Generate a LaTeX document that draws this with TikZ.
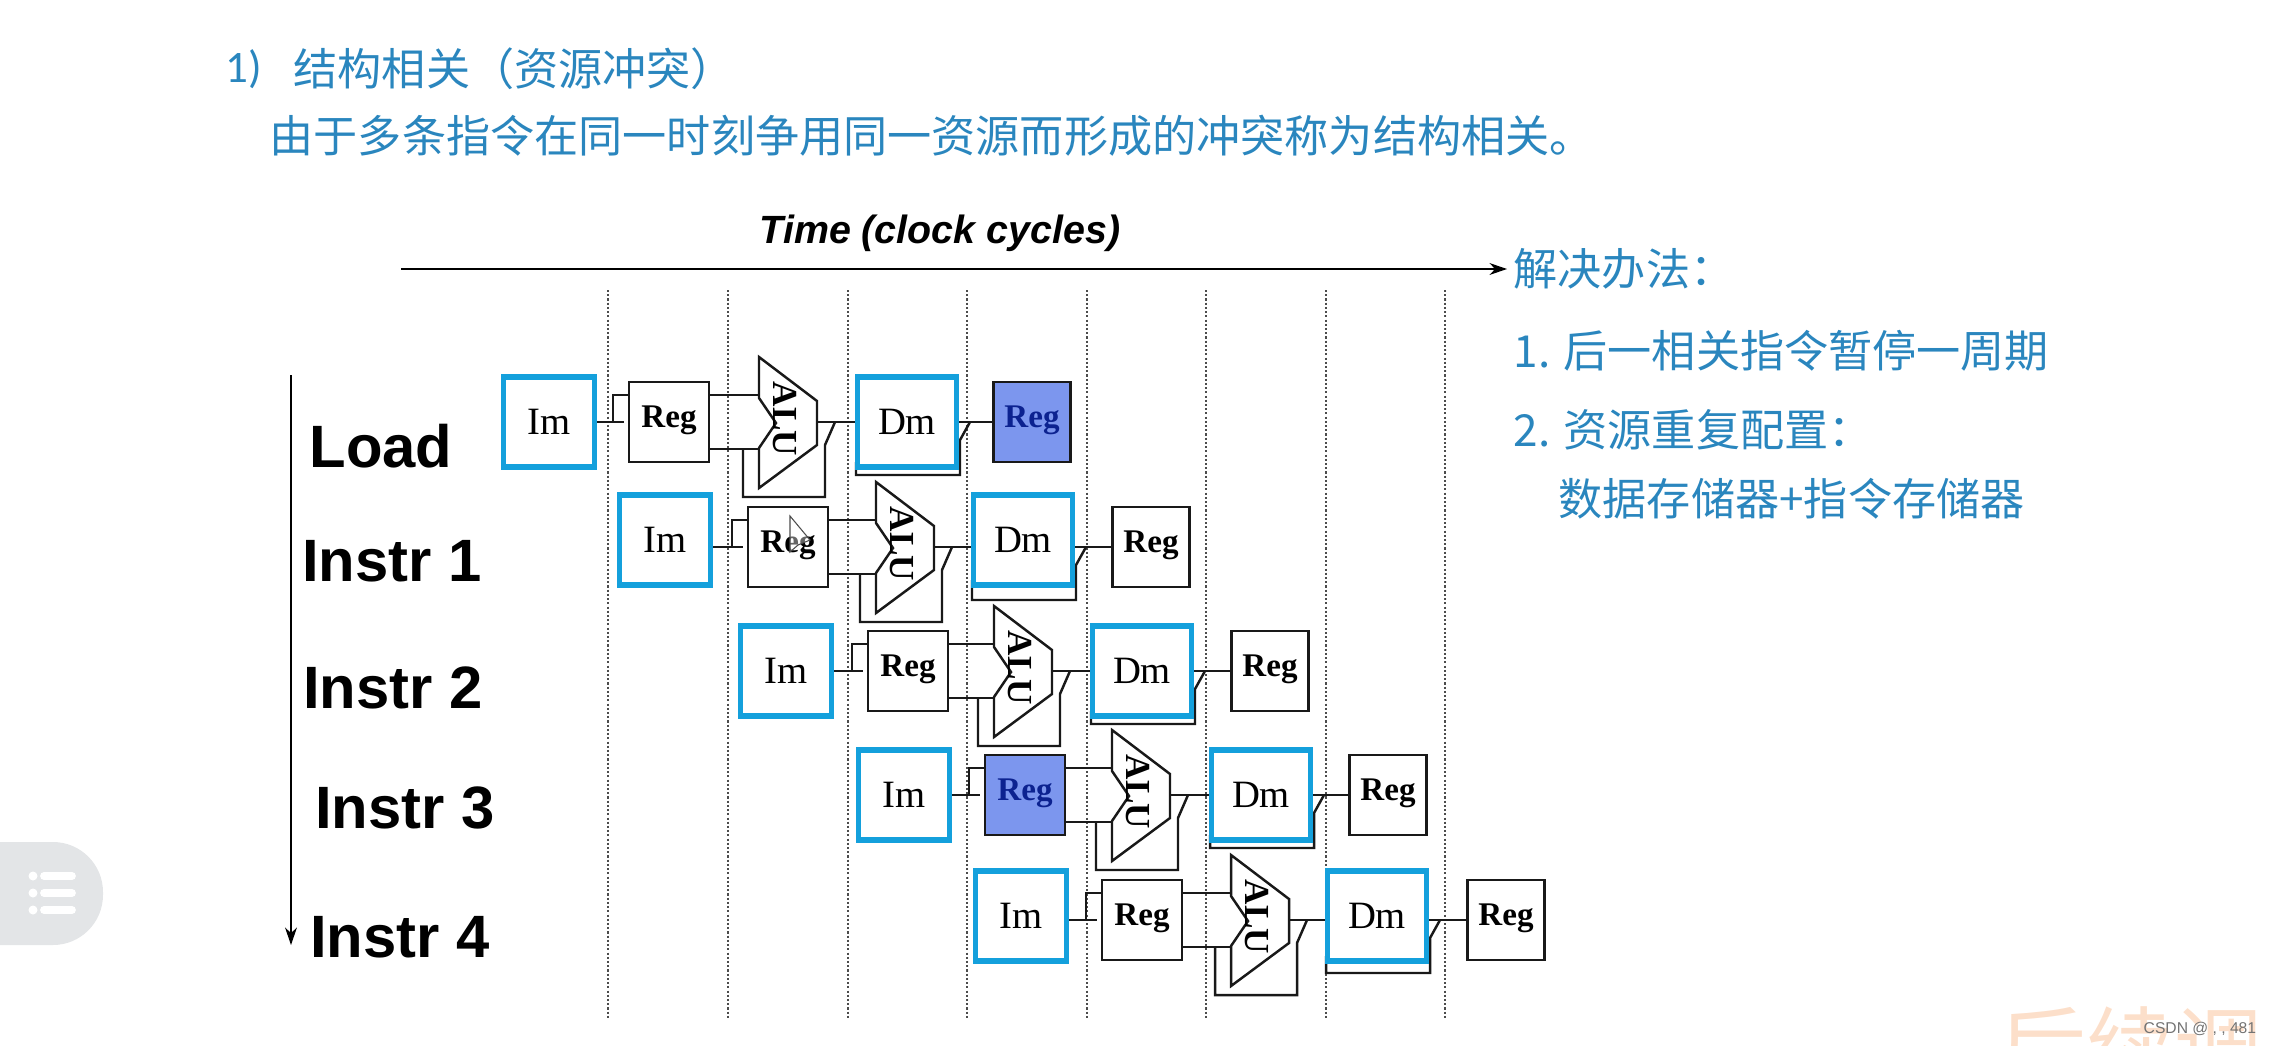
\documentclass[tikz,border=0pt]{standalone}
\usepackage{fontspec}
\setmainfont{Liberation Serif}
\newfontfamily\cjk{Noto Sans CJK SC}
\newfontfamily\carlito{Carlito}
\newfontfamily\arial{Liberation Sans}
\usetikzlibrary{arrows.meta, calc}
\definecolor{slideblue}{HTML}{2A86BE}
\definecolor{boxblue}  {HTML}{14A0DC}
\definecolor{hazfill}  {HTML}{7C96EE}
\definecolor{hazink}   {HTML}{0C2290}
\definecolor{wmorange} {HTML}{FCDFCA}
\definecolor{btngray}  {HTML}{E3E5E7}
\tikzset{
  SLD/.style={text=slideblue, font=\cjk\fontsize{12.55}{14}\selectfont, anchor=west, inner sep=0pt},
  ROW/.style={font=\arial\bfseries\fontsize{17}{19}\selectfont, inner sep=0pt},
  MEM/.style={draw=boxblue, fill=white, line width=1.5pt, minimum height=0.9cm,
    inner sep=0pt, font=\fontsize{11}{12}\selectfont},
  REG/.style={draw=black!90, fill=white, line width=0.7pt, minimum height=0.8cm,
    inner sep=0pt, text height=4pt, text depth=1pt, font=\bfseries\fontsize{9.4}{11}\selectfont},
  HAZ/.style={fill=hazfill, text=hazink},
  WIRE/.style={draw=black!90, line width=0.7pt},
  TICK/.style={black!70, line width=0.5pt, dash pattern=on 0.6pt off 0.6pt},
  ARR/.style={-{Stealth[length=5pt,width=3.4pt]}, line width=0.4pt},
}
\begin{document}
\begin{tikzpicture}[x=0.01cm, y=-0.01cm]
  \clip (0,0) rectangle (2270,1045);
  % slide text
  \node[SLD, font=\carlito\fontsize{12.8}{15}\selectfont] (num) at (225,69) {1)};
  \node[SLD] (head) at (293,69) {结构相关（资源冲突）};
  \node[SLD] (body) at (269,136) {由于多条指令在同一时刻争用同一资源而形成的冲突称为结构相关。};
  \node[SLD] (fix) at (1513,269) {解决办法：};
  \node[SLD] (fix1) at (1513,351) {1. 后一相关指令暂停一周期};
  \node[SLD] (fix2) at (1513,430) {2. 资源重复配置：};
  \node[SLD] (fix3) at (1558,499) {数据存储器+指令存储器};
  % time axis
  \node[font=\arial\bfseries\itshape\fontsize{11.2}{13}\selectfont, inner sep=0pt] (time) at (940,233) {Time (clock cycles)};
  \coordinate (t0) at (401,269);
  \coordinate (t1) at (1507,269);
  \draw[ARR] (t0) -- (t1);
  \coordinate (i0) at (291,375);
  \coordinate (i1) at (291,945);
  \draw[ARR] (i0) -- (i1);
  \foreach \x in {608,728,848,967,1087,1206,1326,1445}{
    \draw[TICK] (\x,290) -- (\x,1020);}
  % row labels
  \foreach \lbl/\x/\y/\nm in {Load/381/446/load, Instr 1/392/561/ia, Instr 2/393/688/ib,
      Instr 3/405/808/ic, Instr 4/400/937/id}{
    \node[ROW] (\nm) at (\x,\y) {\lbl};}
  % pipeline rows
  \foreach \n/\im/\reg/\alu/\dm/\wb/\iy/\y in {
      1/549/669/759/907/1032/422/422,
      2/665/788/876/1023/1151/540/547,
      3/786/908/994/1142/1270/671/671,
      4/904/1025/1112/1261/1388/795/795,
      5/1021/1142/1231/1377/1506/916/920}{
    \node[MEM, minimum width=0.91cm] (im\n) at (\im,\iy) {Im};
    \node[REG, minimum width=0.8cm] (reg\n) at (\reg,\y) {Reg};
    \node[REG, minimum width=0.77cm] (wb\n) at (\wb,\y) {Reg};
    \coordinate (alu\n) at (\alu,\y);
    % feedback under the ALU goes first
    \draw[WIRE] ($(alu\n)+(-16,27)$) -- ($(alu\n)+(-16,75)$) -- ($(alu\n)+(66,75)$)
      -- ($(alu\n)+(66,23)$) -- ($(alu\n)+(76,0)$);
    \draw[WIRE, fill=white] ($(alu\n)+(0,-65)$) -- ($(alu\n)+(58,-21)$) -- ($(alu\n)+(58,23)$)
      -- ($(alu\n)+(0,66)$) -- ($(alu\n)+(0,26)$) -- ($(alu\n)+(17,1)$) -- ($(alu\n)+(0,-24)$) -- cycle;
    \node[rotate=-90, inner sep=0pt, font=\bfseries\fontsize{10}{11}\selectfont] (alutxt\n) at ($(alu\n)+(26,-3)$) {ALU};
    % feedback under the Dm also goes before its box
    \coordinate (dmbl\n) at ($(\dm,\iy)+(-51,40)$);
    \coordinate (dmbr\n) at ($(\dm,\y)+(53,53)$);
    \draw[WIRE] (dmbl\n) |- (dmbr\n) -- ($(\dm,\y)+(53,18)$) -- ($(\dm,\y)+(63,0)$);
    \node[MEM, minimum width=0.99cm] (dm\n) at (\dm,\iy) {Dm};
    \draw[WIRE] (im\n.east |- reg\n.west) -- ($(reg\n.west)+(-4,0)$);
    \draw[WIRE] ($(reg\n.west)+(-15,0)$) |- ($(reg\n.west)+(0,-27)$);
    \draw[WIRE] ($(reg\n.east)+(0,-27)$) -- ($(alu\n)+(0,-27)$);
    \draw[WIRE] ($(reg\n.east)+(0,27)$) -- ($(alu\n)+(0,27)$);
    \draw[WIRE] ($(alu\n)+(58,0)$) -- (alu\n -| dm\n.west);
    \draw[WIRE] (dm\n.east |- wb\n.west) -- (wb\n.west);
  }
  % the two registers in conflict
  \node[REG, HAZ, minimum width=0.77cm] (haz1) at (wb1) {Reg};
  \node[REG, HAZ, minimum width=0.8cm] (haz2) at (reg4) {Reg};
  % pointer over the second row
  \draw[black!70, line width=0.3pt, fill=white, fill opacity=0.4] (790,516) -- (790,552) -- (798,545) -- (810,540) -- cycle;
  % side button
  \fill[btngray, rounded corners=0.5cm] (-60,842) rectangle (103,945);
  \foreach \y in {876,893,910}{
    \fill[white] (33,\y) circle (4.5);
    \draw[white, line width=2.2pt, line cap=round] (44,\y) -- (72,\y);}
  % watermark and stamp
  \node[font=\cjk\fontsize{25}{27}\selectfont, text=wmorange, anchor=west, inner sep=0pt] (wm) at (1998,1047) {后续调};
  \node[font=\arial\fontsize{4.45}{6}\selectfont, text=black!55, anchor=west, inner sep=0pt] (csdn) at (2143,1029) {CSDN @ , , 481};
\end{tikzpicture}
\end{document}
